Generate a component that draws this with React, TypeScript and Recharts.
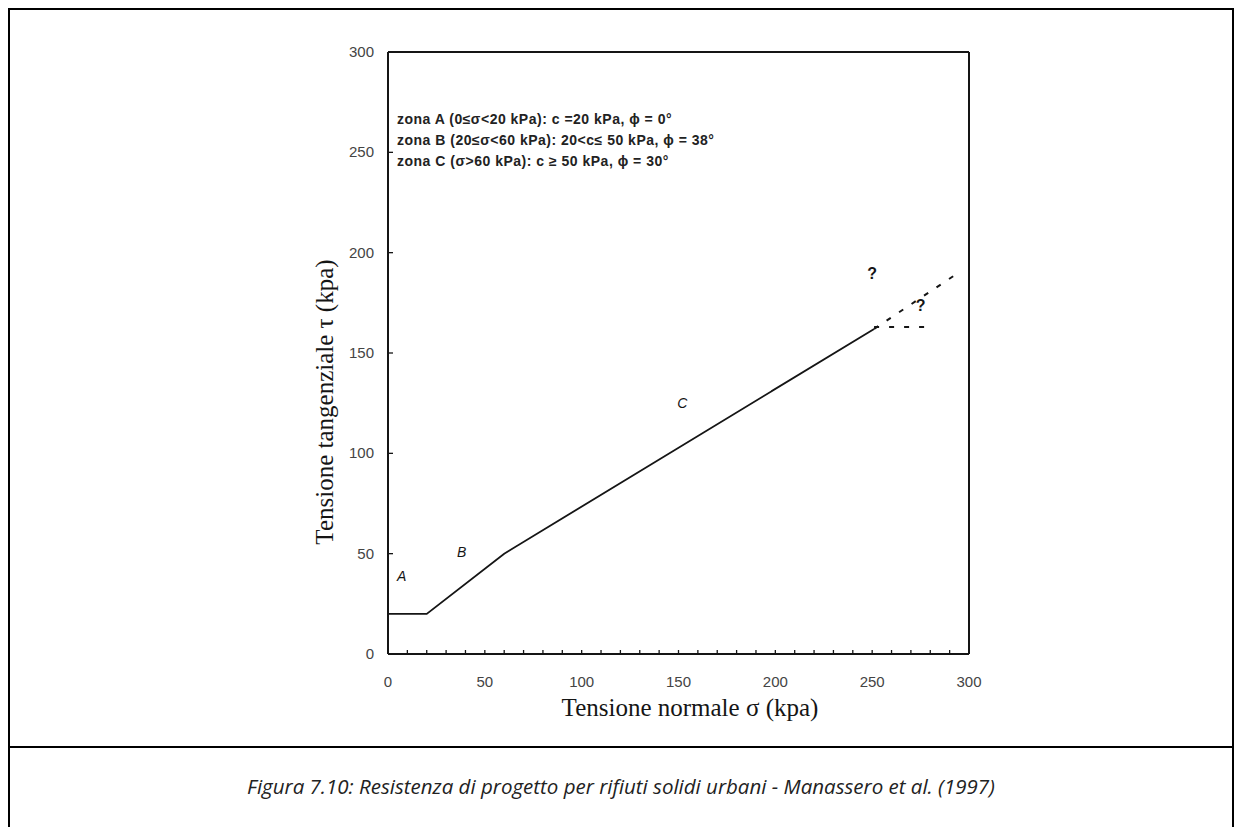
import { ComposedChart, Line, Scatter, XAxis, YAxis, ReferenceLine } from "recharts";

// tick values (x every 10 kPa with labels every 50)
const xTicks = [0, 10, 20, 30, 40, 50, 60, 70, 80, 90, 100, 110, 120, 130, 140, 150, 160, 170, 180, 190, 200, 210, 220, 230, 240, 250, 260, 270, 280, 290, 300];
const xLabels = [0, 50, 100, 150, 200, 250, 300];
const yTicks = [0, 50, 100, 150, 200, 250, 300];

// design envelope (sigma, tau in kPa)
const envelope = [
  { x: 0, y: 20 },
  { x: 20, y: 20 },
  { x: 60, y: 50 },
  { x: 251, y: 162 },
];
const upperDashed = [
  { x: 251, y: 162 },
  { x: 293, y: 189 },
];
const flatDashed = [
  { x: 251, y: 163 },
  { x: 281, y: 163 },
];

const zoneLabels = [
  { x: 7, y: 39, text: "A" },
  { x: 38, y: 51, text: "B" },
  { x: 152, y: 125, text: "C" },
];
const questionMarks = [
  { x: 250, y: 190, text: "?" },
  { x: 275, y: 174, text: "?" },
];

const legendLines = [
  "zona A (0≤σ<20 kPa): c =20 kPa, ϕ = 0°",
  "zona B (20≤σ<60 kPa): 20<c≤ 50 kPa, ϕ = 38°",
  "zona C (σ>60 kPa): c ≥ 50 kPa, ϕ = 30°",
];

const caption =
  "Figura 7.10: Resistenza di progetto per rifiuti solidi urbani - Manassero et al. (1997)";

const ink = "#151515";

const XTick = (props: any) => {
  const { x, y, payload } = props;
  const v = payload.value;
  return (
    <g>
      {v > 0 && v < 300 && (
        <line x1={x} x2={x} y1={y} y2={y - 4} stroke={ink} strokeWidth={1.3} />
      )}
      {xLabels.includes(v) && (
        <text
          x={x}
          y={y + 33}
          textAnchor="middle"
          fontFamily="Liberation Sans, Arial, sans-serif"
          fontSize={15}
          fill="#444">
          {v}
        </text>
      )}
    </g>
  );
};

const YTick = (props: any) => {
  const { x, y, payload } = props;
  const v = payload.value;
  return (
    <g>
      {v > 0 && v < 300 && (
        <line x1={x} x2={x + 5} y1={y} y2={y} stroke={ink} strokeWidth={1.3} />
      )}
      <text
        x={x - 14}
        y={y + 5}
        textAnchor="end"
        fontFamily="Liberation Sans, Arial, sans-serif"
        fontSize={15}
        fill="#444">
        {v}
      </text>
    </g>
  );
};

const ZoneLetter = (props: any) => {
  const { cx, cy, payload } = props;
  return (
    <text
      x={cx}
      y={cy + 5}
      textAnchor="middle"
      fontFamily="Liberation Sans, Arial, sans-serif"
      fontStyle="italic"
      fontSize={14}
      fill={ink}>
      {payload.text}
    </text>
  );
};

const Question = (props: any) => {
  const { cx, cy, payload } = props;
  return (
    <text
      x={cx}
      y={cy + 6}
      textAnchor="middle"
      fontFamily="Liberation Sans, Arial, sans-serif"
      fontWeight="bold"
      fontSize={16}
      fill={ink}>
      {payload.text}
    </text>
  );
};

export default function App() {
  return (
    <div
      style={{
        position: "fixed",
        left: 8,
        top: 8,
        width: 1226,
        height: 830,
        boxSizing: "border-box",
        border: "2px solid #000",
        background: "#fff",
        overflow: "hidden",
      }}>
      <ComposedChart
        width={1000}
        height={720}
        margin={{ top: 42, right: 41, left: 318, bottom: 16 }}
        style={{ position: "absolute", left: 0, top: 0 }}>
        <XAxis
          dataKey="x"
          type="number"
          domain={[0, 300]}
          ticks={xTicks}
          interval={0}
          height={60}
          tickSize={0}
          tickMargin={0}
          tickLine={false}
          axisLine={{ stroke: ink, strokeWidth: 2 }}
          tick={<XTick />}
          allowDataOverflow
        />
        <YAxis
          dataKey="y"
          type="number"
          domain={[0, 300]}
          ticks={yTicks}
          interval={0}
          width={60}
          tickSize={0}
          tickMargin={0}
          tickLine={false}
          axisLine={{ stroke: ink, strokeWidth: 2 }}
          tick={<YTick />}
          allowDataOverflow
        />
        <ReferenceLine y={300} stroke={ink} strokeWidth={2} />
        <ReferenceLine x={300} stroke={ink} strokeWidth={2} />
        <Line
          data={envelope}
          dataKey="y"
          type="linear"
          stroke={ink}
          strokeWidth={1.8}
          dot={false}
          isAnimationActive={false}
        />
        <Line
          data={upperDashed}
          dataKey="y"
          type="linear"
          stroke={ink}
          strokeWidth={2}
          strokeDasharray="5 10"
          dot={false}
          isAnimationActive={false}
        />
        <Line
          data={flatDashed}
          dataKey="y"
          type="linear"
          stroke={ink}
          strokeWidth={2}
          strokeDasharray="5 10"
          dot={false}
          isAnimationActive={false}
        />
        <Scatter data={zoneLabels} dataKey="y" shape={<ZoneLetter />} isAnimationActive={false} />
        <Scatter data={questionMarks} dataKey="y" shape={<Question />} isAnimationActive={false} />
      </ComposedChart>

      <div
        style={{
          position: "absolute",
          left: 387,
          top: 99,
          fontFamily: "Liberation Sans, Arial, sans-serif",
          fontWeight: "bold",
          fontSize: 14,
          letterSpacing: 0.5,
          lineHeight: "21px",
          color: "#222",
          whiteSpace: "nowrap",
        }}>
        {legendLines.map((l) => (
          <div key={l}>{l}</div>
        ))}
      </div>

      <div
        style={{
          position: "absolute",
          left: 315 - 200,
          top: 392 - 18,
          width: 400,
          height: 36,
          lineHeight: "36px",
          textAlign: "center",
          transform: "rotate(-90deg)",
          fontFamily: "Liberation Serif, Times New Roman, serif",
          fontSize: 25,
          color: ink,
          whiteSpace: "nowrap",
        }}>
        Tensione tangenziale τ (kpa)
      </div>

      <div
        style={{
          position: "absolute",
          left: 680 - 200,
          top: 698 - 18,
          width: 400,
          height: 36,
          lineHeight: "36px",
          textAlign: "center",
          fontFamily: "Liberation Serif, Times New Roman, serif",
          fontSize: 25,
          color: ink,
          whiteSpace: "nowrap",
        }}>
        Tensione normale σ (kpa)
      </div>

      <div
        style={{
          position: "absolute",
          left: 0,
          top: 736,
          width: "100%",
          height: 2,
          background: "#000",
        }}
      />

      <div
        style={{
          position: "absolute",
          left: 0,
          top: 759,
          width: "100%",
          height: 34,
          lineHeight: "34px",
          textAlign: "center",
          fontFamily: "Open Sans, sans-serif",
          fontStyle: "italic",
          fontWeight: 400,
          fontSize: 20.5,
          color: "#222",
          whiteSpace: "nowrap",
        }}>
        {caption}
      </div>
    </div>
  );
}
